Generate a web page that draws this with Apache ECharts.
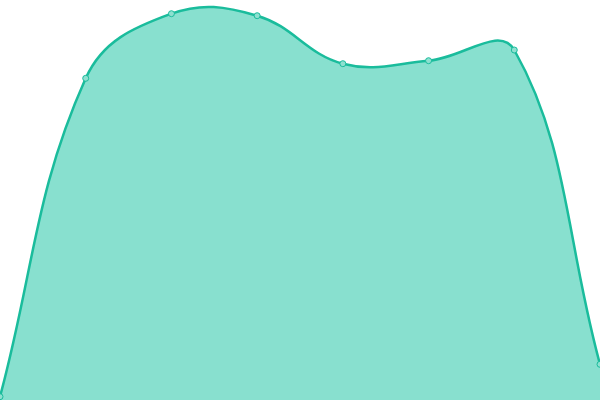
<!DOCTYPE html>
<html><head><meta charset="utf-8">
<script src="https://cdn.jsdelivr.net/npm/echarts@6/dist/echarts.min.js"></script>
<style>html,body{margin:0;padding:0;background:#fff}#c{width:600px;height:400px}</style>
</head><body><div id="c"></div>
<script>
const categories = ['A','B','C','D','E','F','G','H'];
const values = [3.3, 321.7, 386.3, 384.3, 336.3, 339.3, 350, 35.7];
const chart = echarts.init(document.getElementById('c'));

// Cardinal-style spline through the pixel coords given by the chart's own scales
function smoothPath(pts, t) {
  const n=pts.length, cps=[];
  for(let i=0;i<n;i++){
    const cur=pts[i], prev=pts[i-1]||cur, next=pts[i+1]||cur;
    const d01=Math.hypot(cur[0]-prev[0],cur[1]-prev[1]);
    const d12=Math.hypot(next[0]-cur[0],next[1]-cur[1]);
    let s01=d01/(d01+d12), s12=d12/(d01+d12);
    if(isNaN(s01)) s01=0; if(isNaN(s12)) s12=0;
    const fa=t*s01, fb=t*s12;
    cps.push({
      prev:[cur[0]-fa*(next[0]-prev[0]), cur[1]-fa*(next[1]-prev[1])],
      next:[cur[0]+fb*(next[0]-prev[0]), cur[1]+fb*(next[1]-prev[1])]
    });
  }
  let d='M'+pts[0][0]+' '+pts[0][1];
  for(let i=1;i<n;i++){
    const a=cps[i-1].next, b=cps[i].prev, p=pts[i];
    d+=' C'+a[0]+' '+a[1]+' '+b[0]+' '+b[1]+' '+p[0]+' '+p[1];
  }
  return d;
}

chart.setOption({
  animation:false,
  grid:{left:0,right:0,top:0,bottom:0},
  xAxis:{type:'category',data:categories,boundaryGap:false,show:false},
  yAxis:{type:'value',min:0,max:400,show:false},
  series:[{
    type:'custom',
    data:values,
    renderItem:function(params, api){
      if(params.dataIndex!==0) return null;
      const pts=values.map((v,i)=>api.coord([i,v]));
      const line=smoothPath(pts,0.4);
      const base0=api.coord([0,0]), base1=api.coord([values.length-1,0]);
      const area=line+' L'+base1[0]+' '+base1[1]+' L'+base0[0]+' '+base0[1]+' Z';
      return {type:'group',children:[
        {type:'path',shape:{pathData:area},style:{fill:'#88e0cf',stroke:null}},
        {type:'path',shape:{pathData:line},style:{fill:null,stroke:'#1abc9c',lineWidth:2.5}}
      ]};
    },
    z:1
  },{
    type:'line',data:values,
    symbol:'circle',symbolSize:6,
    itemStyle:{color:'#8ee0d0',borderColor:'#1abc9c',borderWidth:1},
    lineStyle:{opacity:0},
    z:2
  }]
});
</script></body></html>
